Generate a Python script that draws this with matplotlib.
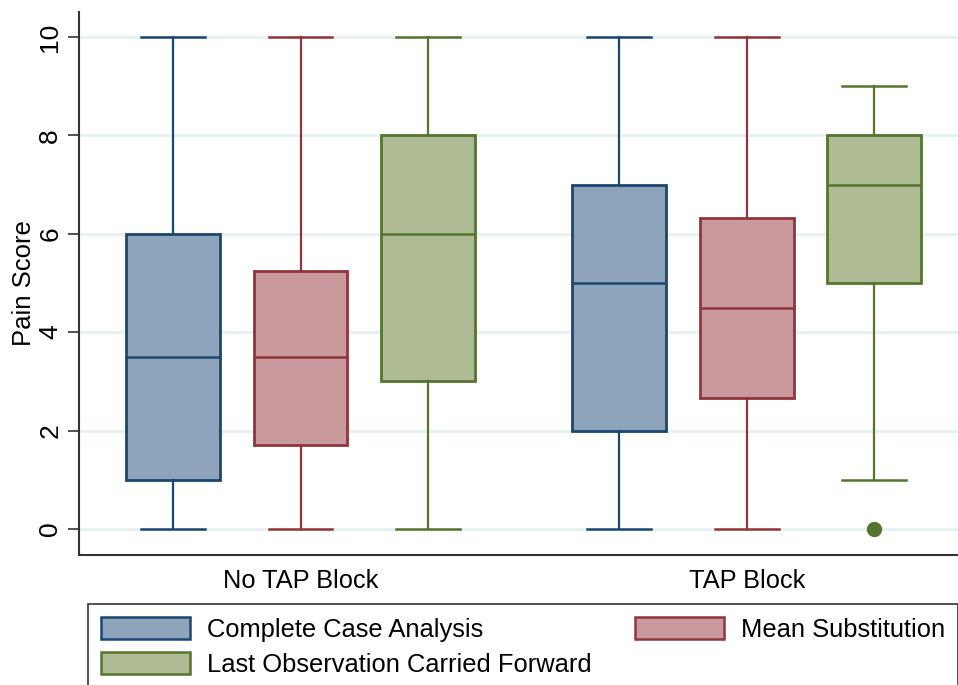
import matplotlib
matplotlib.use("Agg")
import matplotlib.pyplot as plt
from matplotlib.patches import Patch

plt.rcParams['font.family'] = ['Liberation Sans', 'DejaVu Sans']

# --------------------------------------------------
# Data
# --------------------------------------------------
groups = ["No TAP Block", "TAP Block"]
methods = ["Complete Case Analysis", "Mean Substitution",
           "Last Observation Carried Forward"]

whislo = [[0, 0, 0], [0, 0, 1]]
q1 = [[1, 1.7, 3], [2, 2.66, 5]]
med = [[3.5, 3.5, 6], [5, 4.5, 7]]
q3 = [[6, 5.25, 8], [7, 6.33, 8]]
whishi = [[10, 10, 10], [10, 10, 9]]
fliers = [[[], [], []], [[], [], [0]]]

# --------------------------------------------------
# Style
# --------------------------------------------------
edge_colors = ["#1a476f", "#90353b", "#55752f"]
fill_colors = ["#8ea4bb", "#c9999d", "#aebb95"]
grid_color = "#e8f0f2"

fig = plt.figure(figsize=(9.58, 6.85), dpi=100)
ax = fig.add_axes([0.0825, 0.1898, 0.929, 0.7927])

group_gap = 3.5
for g in range(len(groups)):
    for m in range(len(methods)):
        stats = [{
            'whislo': whislo[g][m], 'q1': q1[g][m], 'med': med[g][m],
            'q3': q3[g][m], 'whishi': whishi[g][m], 'fliers': fliers[g][m],
        }]
        ec = edge_colors[m]
        ax.bxp(stats, positions=[g * group_gap + m], widths=0.737,
               capwidths=0.5, patch_artist=True, showfliers=True,
               boxprops=dict(facecolor=fill_colors[m], edgecolor=ec, lw=2.0),
               medianprops=dict(color=ec, lw=1.8),
               whiskerprops=dict(color=ec, lw=1.6),
               capprops=dict(color=ec, lw=1.8),
               flierprops=dict(marker='o', markersize=10,
                               markerfacecolor=ec, markeredgecolor=ec),
               manage_ticks=False, zorder=3)

ax.set_xlim(-0.737, 6.243)
ax.set_ylim(-0.53, 10.51)

ax.set_xticks([g * group_gap + 1 for g in range(len(groups))])
ax.set_xticklabels(groups, fontsize=18.3)
ax.tick_params(axis='x', length=0, pad=10)

ax.set_yticks([0, 2, 4, 6, 8, 10])
ax.set_yticklabels(["0", "2", "4", "6", "8", "10"], rotation=90,
                   va='center', fontsize=19)
ax.tick_params(axis='y', length=8, width=1.2, color='#333333', pad=4)
ax.set_ylabel("Pain Score", fontsize=18.5, labelpad=2)

ax.grid(axis='y', color=grid_color, lw=2, zorder=0)
ax.set_axisbelow(True)
for side in ['top', 'right']:
    ax.spines[side].set_visible(False)
for side in ['left', 'bottom']:
    ax.spines[side].set_color('#333333')
    ax.spines[side].set_linewidth(1.5)

# legend
handles = [Patch(facecolor=fill_colors[i], edgecolor=edge_colors[i], lw=1.8,
                 label=methods[i]) for i in range(len(methods))]
# order so that row 1 = CCA | MS, row 2 = LOCF
order = [0, 2, 1]
leg = fig.legend([handles[i] for i in order], [methods[i] for i in order],
                 ncol=2, loc='upper left',
                 bbox_to_anchor=(88 / 958, 1 - 604 / 685),
                 fontsize=18.4, frameon=True, fancybox=False,
                 handlelength=3.5, handleheight=0.95, handletextpad=0.65,
                 columnspacing=1.7, labelspacing=0.4, borderpad=0.5,
                 borderaxespad=0)
leg.get_frame().set_edgecolor('black')
leg.get_frame().set_linewidth(1.2)

fig.savefig("out.png", dpi=100)
